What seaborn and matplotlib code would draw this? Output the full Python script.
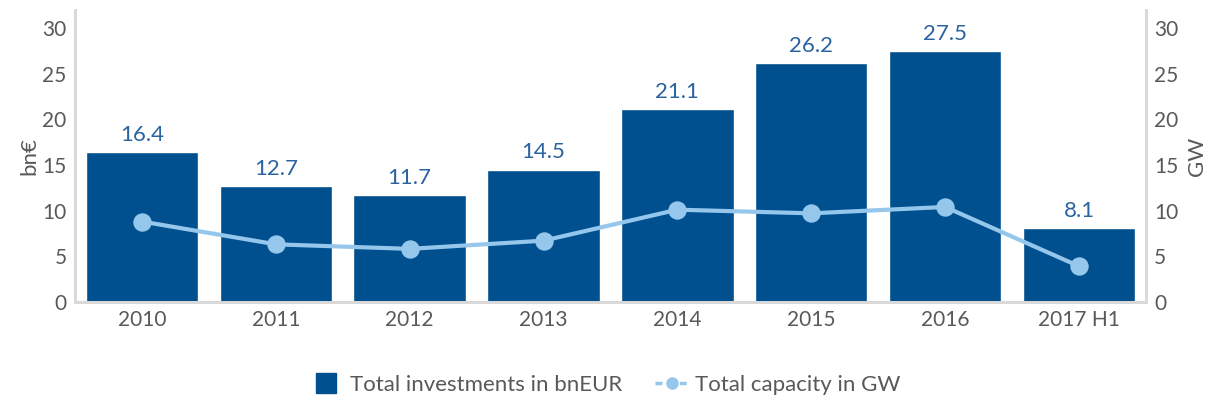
import pandas as pd
import matplotlib.pyplot as plt
import seaborn as sns
from matplotlib.lines import Line2D

# data
years = ['2010', '2011', '2012', '2013', '2014', '2015', '2016', '2017 H1']
investments = [16.4, 12.7, 11.7, 14.5, 21.1, 26.2, 27.5, 8.1]
capacity = [8.8, 6.3, 5.8, 6.7, 10.1, 9.7, 10.4, 3.9]

df = pd.DataFrame({'Year': years, 'Investments': investments, 'Capacity': capacity})

bar_color = '#00508f'
line_color = '#95c6eb'
text_color = '#595959'
spine_color = '#d9d9d9'

sns.set_style('white')
plt.rcParams['font.family'] = ['Lato', 'DejaVu Sans']

fig, ax = plt.subplots(figsize=(12.1, 4.05), dpi=100)
fig.subplots_adjust(left=0.062, right=0.947, top=0.975, bottom=0.255)

sns.barplot(data=df, x='Year', y='Investments', color=bar_color, width=0.84,
            saturation=1, ax=ax)
for i, v in enumerate(investments):
    ax.text(i, v + 0.8, f'{v}', ha='center', va='bottom', fontsize=16, color='#2b63a0')

ax.set_ylim(0, 32)
ax.set_yticks(range(0, 31, 5))
ax.set_ylabel('bn€', fontsize=16, color=text_color, labelpad=2)
ax.set_xlabel('')
ax.tick_params(axis='both', labelsize=15, colors=text_color, length=0, pad=6)

ax2 = ax.twinx()
sns.pointplot(data=df, x='Year', y='Capacity', color=line_color, markers='o',
              markersize=11, linewidth=3, ax=ax2)
ax2.set_ylim(0, 32)
ax2.set_yticks(range(0, 31, 5))
ax2.set_ylabel('GW', fontsize=16, color=text_color, labelpad=6)
ax2.tick_params(axis='y', labelsize=15, colors=text_color, length=0, pad=6)

for a in (ax, ax2):
    a.spines['top'].set_visible(False)
    for side in ('left', 'right', 'bottom'):
        a.spines[side].set_color(spine_color)
        a.spines[side].set_linewidth(2)
ax.set_xlim(-0.5, 7.5)
ax2.set_xlim(-0.5, 7.5)

handles = [
    Line2D([], [], color=bar_color, linestyle='none', marker='s', markersize=14,
           label='Total investments in bnEUR'),
    Line2D([], [], color=line_color, linestyle=(0, (2, 1.5)), linewidth=2.5, marker='o',
           markersize=8, label='Total capacity in GW'),
]
fig.legend(handles=handles, loc='lower center', ncol=2, frameon=False,
           fontsize=16, labelcolor=text_color, bbox_to_anchor=(0.5, -0.025),
           handlelength=1.5, handletextpad=0.3, columnspacing=1.5)

plt.savefig('out.png', dpi=100)
